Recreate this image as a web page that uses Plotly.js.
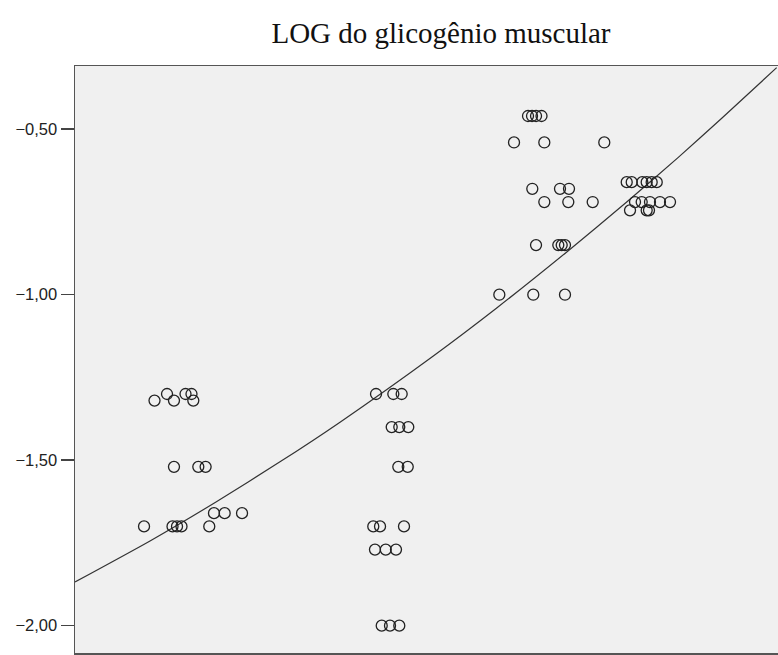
<!DOCTYPE html>
<html>
<head>
<meta charset="utf-8">
<script src="https://cdn.plot.ly/plotly-3.0.1.min.js"></script>
<style>html,body{margin:0;padding:0;background:#fff;}#chart{width:778px;height:655px;}</style>
</head>
<body>
<div id="chart"></div>
<script>
// Observed points (x in arbitrary units 0-100, y = LOG do glicogênio muscular)
const ptsX = [
  11.31, 13.09, 14.08, 15.72, 16.57, 16.83,
  14.08, 17.54, 18.58,
  9.82, 13.87, 14.51, 15.15, 19.10,
  19.77, 21.29, 23.76,
  42.82, 45.28, 46.47,
  45.05, 46.13, 47.41,
  45.99, 47.33,
  42.43, 43.39, 46.80,
  42.67, 44.20, 45.66,
  43.63, 44.81, 46.13,
  64.44, 65.01, 65.58, 66.36,
  62.45, 66.76, 75.29,
  65.05, 68.99, 70.27,
  66.76, 70.17, 73.64,
  65.58, 68.75, 69.23, 69.70,
  60.36, 65.19, 69.70,
  78.48, 79.19, 80.70, 81.32, 82.03, 82.75,
  79.66, 80.61, 81.79, 83.21, 84.64,
  78.95, 81.32, 81.65
];
const ptsY = [
  -1.32, -1.30, -1.32, -1.30, -1.30, -1.32,
  -1.52, -1.52, -1.52,
  -1.70, -1.70, -1.70, -1.70, -1.70,
  -1.66, -1.66, -1.66,
  -1.30, -1.30, -1.30,
  -1.40, -1.40, -1.40,
  -1.52, -1.52,
  -1.70, -1.70, -1.70,
  -1.77, -1.77, -1.77,
  -2.00, -2.00, -2.00,
  -0.46, -0.46, -0.46, -0.46,
  -0.54, -0.54, -0.54,
  -0.68, -0.68, -0.68,
  -0.72, -0.72, -0.72,
  -0.85, -0.85, -0.85, -0.85,
  -1.00, -1.00, -1.00,
  -0.66, -0.66, -0.66, -0.66, -0.66, -0.66,
  -0.72, -0.72, -0.72, -0.72, -0.72,
  -0.745, -0.745, -0.745
];
// Fitted curve
const fitX = [0, 10.67, 20, 29.16, 37.70, 50.97, 59.99, 70, 78.48, 85.82, 92, 99.81];
const fitY = [-1.868, -1.744, -1.627, -1.505, -1.385, -1.185, -1.040, -0.870, -0.720, -0.585, -0.467, -0.314];
const yTicks = [-0.5, -1.0, -1.5, -2.0];
const titleText = 'LOG do glicogênio muscular';

const traces = [
  {
    x: fitX, y: fitY, type: 'scatter', mode: 'lines',
    line: {color: '#333', width: 1.2, shape: 'spline', smoothing: 0.6},
    hoverinfo: 'skip', showlegend: false
  },
  {
    x: ptsX, y: ptsY, type: 'scatter', mode: 'markers',
    marker: {symbol: 'circle-open', size: 11, color: '#222', line: {width: 1.3, color: '#222'}},
    showlegend: false
  }
];

const layout = {
  width: 778, height: 655,
  margin: {l: 75, r: 0, t: 66, b: 2, pad: 0},
  paper_bgcolor: '#ffffff',
  plot_bgcolor: '#f0f0f0',
  separators: ', ',
  title: {
    text: titleText,
    font: {family: 'Liberation Serif, Times New Roman, serif', size: 29, color: '#111'},
    x: 441/778, xanchor: 'center', xref: 'container',
    y: 1 - 33/655, yanchor: 'middle', yref: 'container'
  },
  xaxis: {
    range: [0, 100], showgrid: false, zeroline: false,
    showticklabels: false, ticks: '',
    showline: true, linecolor: '#555', linewidth: 1.5, mirror: true
  },
  yaxis: {
    range: [-2.0825, -0.309], showgrid: false, zeroline: false,
    tickvals: yTicks, tickformat: '.2f',
    ticks: 'outside', ticklen: 13, tickwidth: 1.5, tickcolor: '#444',
    tickfont: {family: 'Liberation Sans, Arial, sans-serif', size: 16.5, color: '#222'},
    showline: true, linecolor: '#555', linewidth: 1.5, mirror: false
  }
};

Plotly.newPlot('chart', traces, layout, {displayModeBar: false, staticPlot: true});
</script>
</body>
</html>
